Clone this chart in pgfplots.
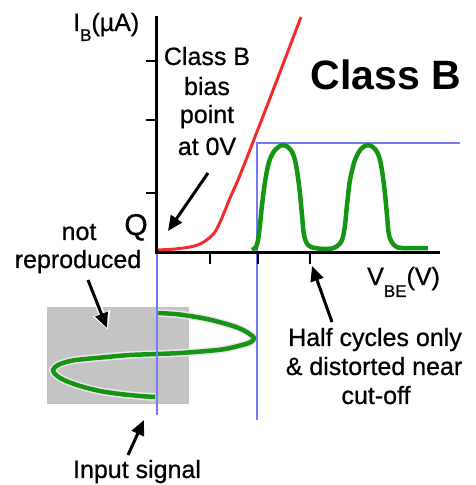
\documentclass[border=0pt]{standalone}
\usepackage{fontspec}
\setmainfont{Liberation Sans}
\newfontfamily\heavy[FakeBold=0.7]{Liberation Sans}
\usepackage{pgfplots}
\pgfplotsset{compat=1.18}
\usetikzlibrary{arrows.meta}
\definecolor{cred}{RGB}{240,45,45}
\definecolor{cgreen}{RGB}{20,150,20}
\definecolor{cblue}{RGB}{120,120,250}
\definecolor{cgray}{RGB}{196,196,196}
\definecolor{chalo}{RGB}{242,228,238}
\newcommand\lbl{\heavy\fontsize{25}{30}\selectfont}
\begin{document}
\begin{tikzpicture}
\begin{axis}[scale only axis, width=475pt, height=485pt,
  xmin=0, xmax=475, ymin=-485, ymax=0, hide axis, clip=false]
\path (axis cs:0,0) rectangle (axis cs:475,-485);
% grey box (region not reproduced)
\addplot[draw=none, fill=cgray] coordinates {(47,-307) (189,-307) (189,-404) (47,-404)} --cycle;
% input signal (halo then green)
\addplot[chalo, line width=7.5pt, smooth, tension=0.55] coordinates {
(157,-313) (175,-314) (190,-316) (207,-319) (223,-323) (236,-327) (245,-331) (251,-335) (254,-338)
(251,-342) (242,-345) (225,-349) (207,-351) (180,-353) (157,-354) (130,-355) (107,-357) (85,-359)
(70,-361) (58,-365) (53,-370) (56,-375) (64,-380) (80,-386) (100,-391) (120,-394) (140,-396) (155,-397)};
\addplot[cgreen, line width=4.5pt, smooth, tension=0.55] coordinates {
(157,-313) (175,-314) (190,-316) (207,-319) (223,-323) (236,-327) (245,-331) (251,-335) (254,-338)
(251,-342) (242,-345) (225,-349) (207,-351) (180,-353) (157,-354) (130,-355) (107,-357) (85,-359)
(70,-361) (58,-365) (53,-370) (56,-375) (64,-380) (80,-386) (100,-391) (120,-394) (140,-396) (155,-397)};
% blue projection lines
\addplot[cblue, line width=2pt] coordinates {(157,-253) (157,-415)};
\addplot[cblue, line width=2pt] coordinates {(257,-420) (257,-143) (460,-143)};
% axes
\addplot[black, line width=3pt] coordinates {(156,-16) (156,-253) (440,-253)};
% ticks
\addplot[black, line width=2pt] coordinates {(146,-61) (156,-61)};
\addplot[black, line width=2pt] coordinates {(146,-120) (156,-120)};
\addplot[black, line width=2pt] coordinates {(146,-193) (156,-193)};
\addplot[black, line width=2pt] coordinates {(210,-253) (210,-264)};
\addplot[black, line width=2pt] coordinates {(258,-253) (258,-264)};
\addplot[black, line width=2pt] coordinates {(310,-253) (310,-264)};
% red input characteristic
\addplot[cred, line width=3pt, smooth, tension=0.5] coordinates {
(158,-250) (175,-249) (190,-247) (200,-244) (208,-239) (215,-232) (221,-220) (226,-208) (230,-198) (238,-180) (246,-160)};
\addplot[cred, line width=3pt] coordinates {(246,-160) (260,-124) (277,-80) (301,-17)};
% output current (green)
\addplot[cgreen, line width=4.5pt, smooth, tension=0.55] coordinates {
(252,-250) (256,-247) (258,-240) (260,-225) (262,-205) (265,-182) (269,-162) (275,-150) (283,-145)
(290,-149) (295,-160) (299,-185) (302,-215) (304,-235) (308,-245) (315,-248) (327,-249) (336,-247)
(342,-240) (345,-225) (347,-205) (350,-180) (355,-160) (361,-149) (368,-145) (375,-149) (380,-160)
(384,-185) (387,-215) (389,-235) (394,-245) (402,-248) (428,-248)};
% arrows
\addplot[black, line width=3pt, -{Triangle[length=15pt,width=13pt]}] coordinates {(208,-173) (168,-231)};
\addplot[white, line width=6pt, -{Triangle[length=18pt,width=17pt]}] coordinates {(88,-278) (108,-330)};
\addplot[black, line width=3pt, -{Triangle[length=15pt,width=13pt]}] coordinates {(88,-280) (107,-328)};
\addplot[black, line width=3pt, -{Triangle[length=15pt,width=13pt]}] coordinates {(128,-455) (144,-420)};
\addplot[black, line width=3pt, -{Triangle[length=15pt,width=13pt]}] coordinates {(332,-322) (312,-266)};
% texts
\node[anchor=base west, inner sep=0pt, font=\lbl] at (axis cs:73,-31) {I\raisebox{-10pt}{\fontsize{17}{17}\selectfont B}(µA)};
\node[anchor=base, inner sep=0pt, font=\lbl] at (axis cs:207,-65) {Class B};
\node[anchor=base, inner sep=0pt, font=\lbl] at (axis cs:207,-95) {bias};
\node[anchor=base, inner sep=0pt, font=\lbl] at (axis cs:207,-123) {point};
\node[anchor=base, inner sep=0pt, font=\lbl] at (axis cs:207,-155) {at 0V};
\node[anchor=base, inner sep=0pt, font=\bfseries\fontsize{41}{45}\selectfont] at (axis cs:386,-90) {Class B};
\node[anchor=base, inner sep=0pt, font=\heavy\fontsize{30}{30}\selectfont] at (axis cs:136,-235) {Q};
\node[anchor=base, inner sep=0pt, font=\lbl] at (axis cs:79,-240) {not};
\node[anchor=base, inner sep=0pt, font=\lbl] at (axis cs:78,-268) {reproduced};
\node[anchor=base, inner sep=0pt, font=\lbl] at (axis cs:137,-478) {Input signal};
\node[anchor=base west, inner sep=0pt, font=\lbl] at (axis cs:367,-285) {V\raisebox{-12pt}{\fontsize{17}{17}\selectfont BE}(V)};
\node[anchor=base, inner sep=0pt, font=\lbl] at (axis cs:375,-346) {Half cycles only};
\node[anchor=base, inner sep=0pt, font=\lbl] at (axis cs:374,-375) {\& distorted near};
\node[anchor=base, inner sep=0pt, font=\lbl] at (axis cs:376,-404) {cut-off};
\end{axis}
\end{tikzpicture}
\end{document}
